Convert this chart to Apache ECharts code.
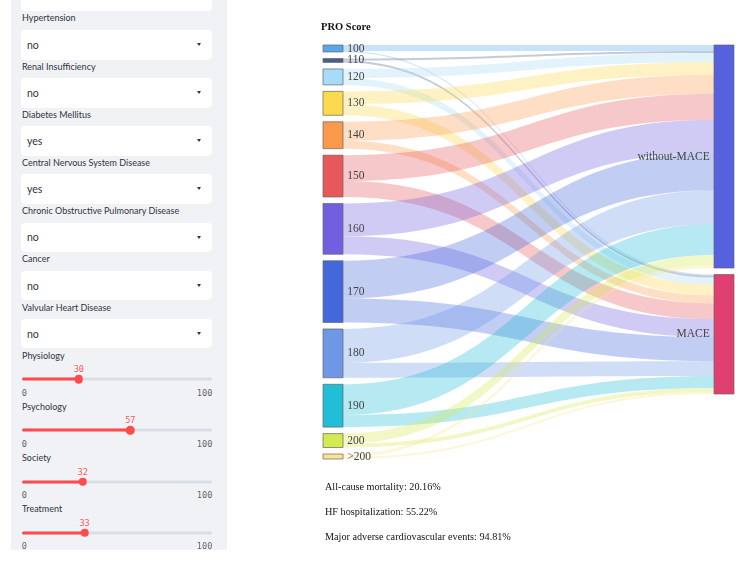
<!DOCTYPE html>
<html>
<head>
<meta charset="utf-8">
<script src="https://cdn.jsdelivr.net/npm/echarts@6/dist/echarts.min.js"></script>
<style>
  html, body { margin:0; padding:0; background:#fff; width:744px; height:565px; overflow:hidden; }
  #chart { position:absolute; left:0; top:0; width:744px; height:565px; }
  #sidebar { position:absolute; left:11px; top:0; width:216px; height:550px; background:#f0f2f6; font-family:Lato, "Noto Sans", sans-serif; color:#31333f; z-index:2; }
  .lbl { position:absolute; left:11px; font-size:9px; line-height:10px; transform:translateY(-50%); white-space:nowrap; }
  .box { position:absolute; left:10px; width:191px; height:29.5px; background:#fff; border-radius:4px; }
  .box .val { position:absolute; left:6px; top:50%; transform:translateY(-50%); font-size:10.5px; color:#31333f; }
  .box .caret { position:absolute; left:176px; top:13px; width:0; height:0; border-left:2.5px solid transparent; border-right:2.5px solid transparent; border-top:3px solid #31333f; }
  .track { position:absolute; left:10.7px; width:190.6px; height:3px; border-radius:2px; background:#d9dde6; transform:translateY(-50%); }
  .fill { position:absolute; left:0; top:0; height:3px; border-radius:2px; background:#ff4b4b; }
  .thumb { position:absolute; width:8.5px; height:8.5px; border-radius:50%; background:#ff4b4b; transform:translate(-50%,-50%); }
  .sv { position:absolute; font-family:"DejaVu Sans Mono", "Liberation Mono", monospace; font-size:8.6px; color:#ff5a5a; transform:translate(-50%,-50%); }
  .mm { position:absolute; font-family:"DejaVu Sans Mono", "Liberation Mono", monospace; font-size:8.6px; color:#666; transform:translateY(-50%); }
  #results { position:absolute; left:325px; top:0; font-family:"Liberation Serif", "Times New Roman", serif; font-size:10.2px; color:#111; z-index:2; }
  #results div { position:absolute; left:0; white-space:nowrap; transform:translateY(-50%); }
</style>
</head>
<body>
<div id="chart"></div>
<div id="sidebar"></div>
<div id="results"></div>
<script>
// ---- data ----
const selectFields = ['Hypertension', 'Renal Insufficiency', 'Diabetes Mellitus', 'Central Nervous System Disease', 'Chronic Obstructive Pulmonary Disease', 'Cancer', 'Valvular Heart Disease'];
const selectValues = ['no', 'no', 'yes', 'yes', 'no', 'no', 'no'];
const sliderFields = ['Physiology', 'Psychology', 'Society', 'Treatment'];
const sliderValues = [30, 57, 32, 33];
const sliderMin = 0;
const sliderMax = 100;

const chartTitle = 'PRO Score';
const scoreNodes = ['100', '110', '120', '130', '140', '150', '160', '170', '180', '190', '200', '>200'];
const outcomeNodes = ['without-MACE', 'MACE'];
const toWithoutMACE = [6, 2, 9, 13, 19, 26, 33, 38, 34, 31, 10, 3];
const toMACE = [1, 2, 7, 11, 8, 16, 18, 24, 15, 12, 4, 2];

const resultNames = ['All-cause mortality', 'HF hospitalization', 'Major adverse cardiovascular events'];
const resultValues = ['20.16%', '55.22%', '94.81%'];

// ---- styles ----
const scoreColors = ['#58a8e8', '#4d5d8a', '#a6dcf7', '#fdd94e', '#fb9a4c', '#e6585a', '#7060e0', '#4468dc', '#6e98e6', '#22bdd6', '#d4ea52', '#fde38c'];
const outcomeColors = ['#5561dd', '#e0406f'];

// ---- sidebar (UI widgets) ----
const sb = document.getElementById('sidebar');
let html = '<div class="box" style="top:-19px;height:30px"></div>';
selectFields.forEach((f, i) => {
  const ly = 18.3 + 48.2 * i;
  const by = 30 + 48.15 * i;
  html += `<div class="lbl" style="top:${ly}px">${f}</div>`;
  html += `<div class="box" style="top:${by}px"><span class="val">${selectValues[i]}</span><span class="caret"></span></div>`;
});
sliderFields.forEach((f, i) => {
  const ly = 355.7 + 51.1 * i;
  const vy = 369.3 + 51.1 * i;
  const ty = 379.2 + 51.15 * i;
  const my = 392.8 + 51.1 * i;
  const frac = (sliderValues[i] - sliderMin) / (sliderMax - sliderMin);
  const tx = 10.7 + 190.6 * frac;
  html += `<div class="lbl" style="top:${ly}px">${f}</div>`;
  html += `<div class="sv" style="left:${tx}px;top:${vy}px">${sliderValues[i]}</div>`;
  html += `<div class="track" style="top:${ty}px"><div class="fill" style="width:${frac * 100}%"></div></div>`;
  html += `<div class="thumb" style="left:${tx}px;top:${ty}px"></div>`;
  html += `<div class="mm" style="left:10.7px;top:${my}px">${sliderMin}</div>`;
  html += `<div class="mm" style="right:14.7px;top:${my}px">${sliderMax}</div>`;
});
sb.innerHTML = html;

// ---- results text ----
const res = document.getElementById('results');
res.innerHTML = resultNames.map((n, i) =>
  `<div style="top:${485.8 + 25.1 * i}px">${n}: ${resultValues[i]}</div>`).join('');

// ---- sankey ----
const nodes = scoreNodes.map((n, i) => ({
  name: n,
  itemStyle: { color: scoreColors[i] },
  label: { position: 'right' }
})).concat(outcomeNodes.map((n, i) => ({
  name: n,
  itemStyle: { color: outcomeColors[i] },
  label: { position: 'left' }
})));

const links = [];
scoreNodes.forEach((s, i) => {
  links.push({ source: s, target: outcomeNodes[0], value: toWithoutMACE[i] });
  links.push({ source: s, target: outcomeNodes[1], value: toMACE[i] });
});

const chart = echarts.init(document.getElementById('chart'), null, { renderer: 'canvas' });
chart.setOption({
  animation: false,
  title: {
    text: chartTitle,
    left: 316,
    top: 17,
    textStyle: { fontFamily: 'Liberation Serif', fontWeight: 'bold', fontSize: 10.5, color: '#111' }
  },
  series: [{
    type: 'sankey',
    left: 323,
    right: 10,
    top: 45,
    bottom: 106,
    nodeWidth: 20,
    nodeGap: 6.5,
    layoutIterations: 0,
    draggable: false,
    emphasis: { disabled: true },
    itemStyle: { borderColor: '#666', borderWidth: 0.7 },
    lineStyle: { color: 'source', opacity: 0.33, curveness: 0.5 },
    label: { fontFamily: 'Liberation Serif', fontSize: 11.5, color: '#444', distance: 4 },
    data: nodes,
    links: links
  }]
});
</script>
</body>
</html>
